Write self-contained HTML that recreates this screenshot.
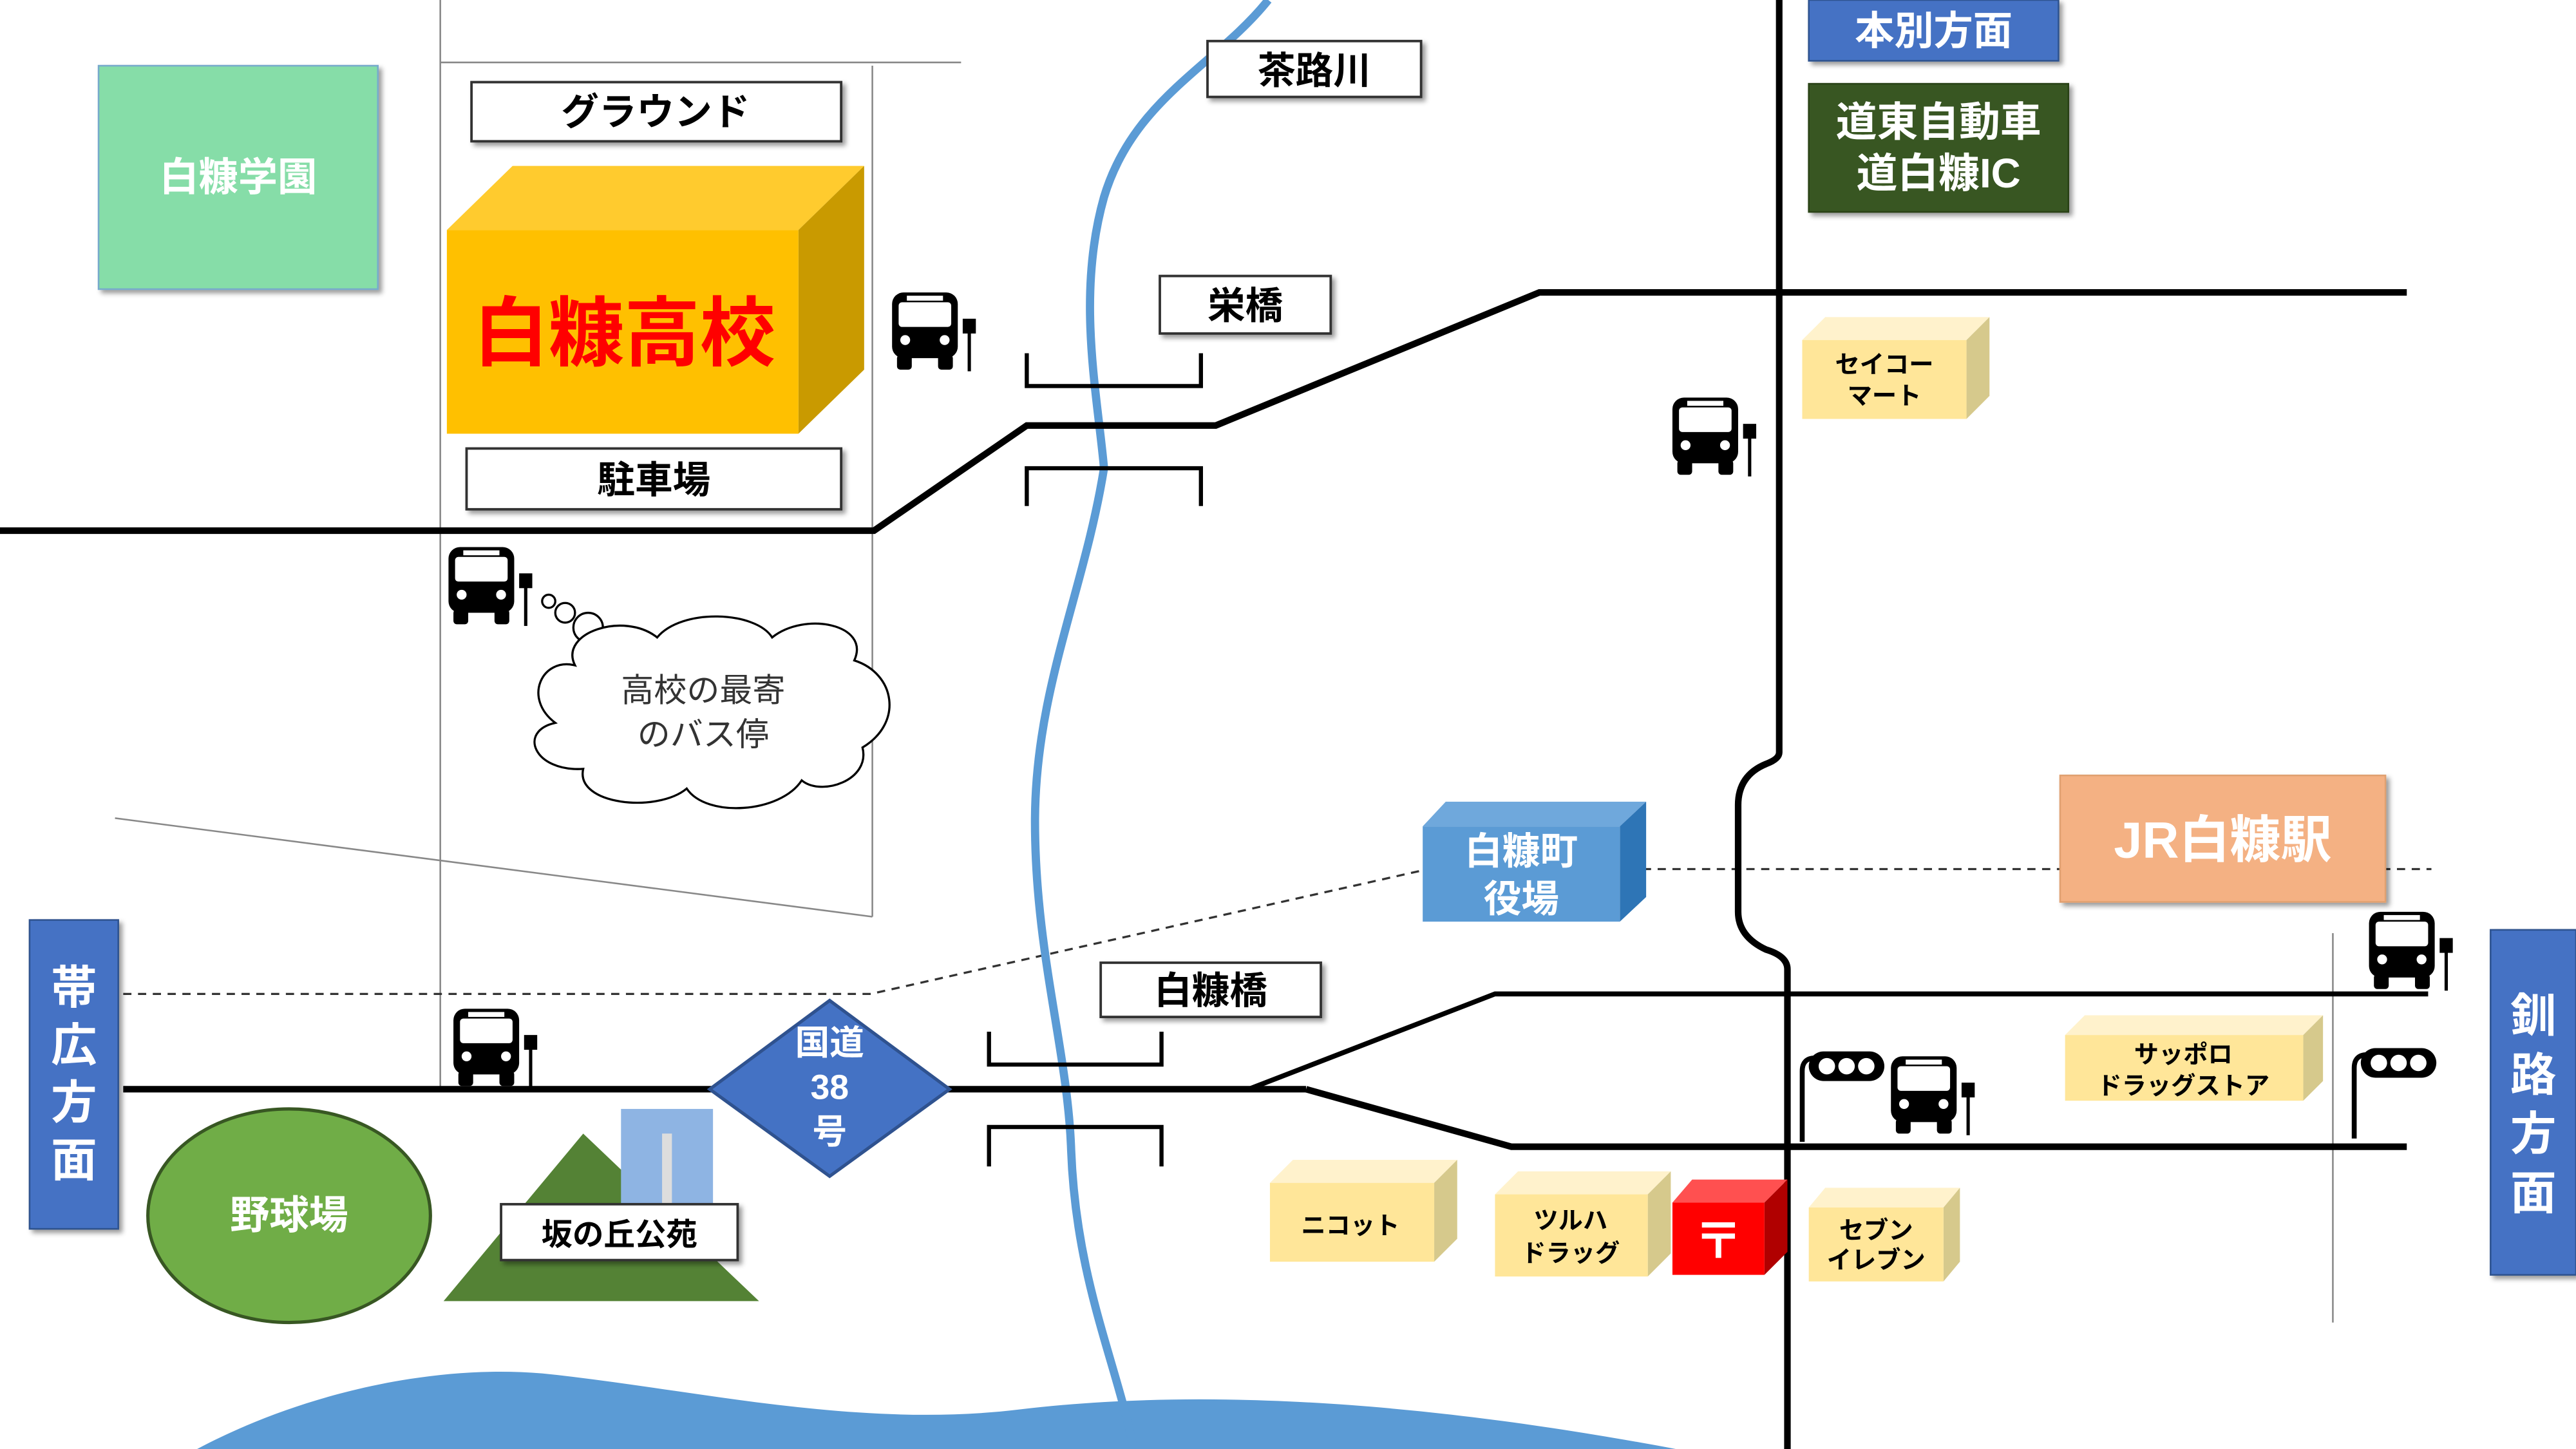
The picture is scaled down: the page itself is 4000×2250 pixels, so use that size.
<!DOCTYPE html>
<html><head><meta charset="utf-8"><style>
html,body{margin:0;padding:0;background:#fff;}
svg{display:block;}
text{font-family:"Liberation Sans","Noto Sans CJK JP",sans-serif;font-weight:bold;}
</style></head><body>
<svg width="4000" height="2250" viewBox="0 0 1568 882" xmlns="http://www.w3.org/2000/svg">
<defs>
<filter id="sh" x="-10%" y="-10%" width="130%" height="130%"><feDropShadow dx="2" dy="2" stdDeviation="1.5" flood-color="#000" flood-opacity="0.4"/></filter>
<g id="bus">
<rect x="0" y="0" width="40" height="40" rx="7" fill="#000"/>
<rect x="4" y="6" width="32" height="15" rx="2" fill="#fff"/>
<rect x="9" y="2" width="22" height="3" fill="#fff"/>
<circle cx="8" cy="29" r="3" fill="#fff"/><circle cx="32" cy="29" r="3" fill="#fff"/>
<rect x="3" y="38" width="9" height="9" rx="2" fill="#000"/><rect x="28" y="38" width="9" height="9" rx="2" fill="#000"/>
<rect x="46" y="18" width="2" height="30" fill="#000"/><rect x="43" y="16" width="8" height="9" fill="#000"/>
</g>
<g id="sig">
<path d="M0,55 V12 Q0,4 8,4" stroke="#000" stroke-width="3" fill="none"/>
<rect x="4" y="0" width="46" height="18" rx="9" fill="#000"/>
<circle cx="15" cy="9" r="5" fill="#fff"/><circle cx="27" cy="9" r="5" fill="#fff"/><circle cx="39" cy="9" r="5" fill="#fff"/>
</g>
</defs>
<rect width="1568" height="882" fill="#fff"/>
<!-- sea -->
<path d="M120,882 C180,850 260,830 330,836 C420,845 520,870 620,858 C720,846 850,850 1020,882 Z" fill="#5B9BD5"/>
<!-- thin lines -->
<g stroke="#888" stroke-width="1" fill="none">
<line x1="268" y1="0" x2="268" y2="662"/>
<line x1="268" y1="38" x2="585" y2="38"/>
<line x1="531" y1="40" x2="531" y2="558"/>
<line x1="70" y1="498" x2="531" y2="558"/>
<line x1="1420" y1="568" x2="1420" y2="805"/>
</g>
<!-- dashed -->
<g stroke="#333" stroke-width="1.3" stroke-dasharray="5,4" fill="none">
<polyline points="75,605 530,605 865,530"/>
<line x1="1000" y1="529" x2="1480" y2="529"/>
</g>
<!-- river -->
<path d="M772,0 C740,40 690,60 672,120 C655,180 668,240 672,285 C660,360 630,420 630,500 C630,580 650,640 652,700 C655,780 680,830 690,882" stroke="#5B9BD5" stroke-width="5" fill="none"/>
<!-- roads -->
<g stroke="#000" stroke-width="4" fill="none">
<polyline points="0,323 532,323 625,259 740,259 937,178 1465,178"/>
<path d="M1083,0 V458 Q1083,462 1075,465 Q1058,472 1058,490 V555 Q1058,570 1075,578 Q1088,582 1088,590 V882"/>
<line x1="75" y1="663" x2="795" y2="663"/>
<polyline points="760,663 910,605 1478,605" stroke-width="3"/>
<polyline points="795,663 920,698 1465,698"/>
</g>
<!-- bridges -->
<g stroke="#000" stroke-width="2.5" fill="none">
<polyline points="625,215 625,235 731,235 731,215"/>
<polyline points="625,308 625,285 731,285 731,308"/>
<polyline points="602,628 602,648 707,648 707,628"/>
<polyline points="602,710 602,686 707,686 707,710"/>
</g>
<!-- 白糠学園 -->
<rect x="60" y="40" width="170" height="136" fill="#86DDA8" stroke="#7ac" stroke-width="1" filter="url(#sh)"/>
<text x="145" y="116" font-size="24" fill="#fff" text-anchor="middle">白糠学園</text>
<!-- label boxes -->
<g filter="url(#sh)" fill="#fff" stroke="#333" stroke-width="1.5">
<rect x="287" y="50" width="225" height="36"/>
<rect x="284" y="273" width="228" height="37"/>
<rect x="735" y="25" width="130" height="34"/>
<rect x="706" y="168" width="104" height="35"/>
<rect x="670" y="586" width="134" height="33"/>
</g>
<g font-size="23" fill="#000" text-anchor="middle">
<text x="399" y="76">グラウンド</text>
<text x="398" y="300">駐車場</text>
<text x="800" y="51">茶路川</text>
<text x="758" y="194">栄橋</text>
<text x="737" y="611">白糠橋</text>
</g>
<!-- 高校 -->
<polygon points="272,140 312,101 526,101 486,140" fill="#FFCB2E"/>
<polygon points="486,140 526,101 526,225 486,264" fill="#C99A00"/>
<rect x="272" y="140" width="214" height="124" fill="#FFC000"/>
<text x="380" y="219" font-size="46" fill="#FF0000" text-anchor="middle">白糠高校</text>
<!-- 本別 / IC -->
<rect x="1101" y="0" width="152" height="37" fill="#4472C4" stroke="#2F528F" filter="url(#sh)"/>
<text x="1177" y="27" font-size="24" fill="#fff" text-anchor="middle">本別方面</text>
<rect x="1101" y="51" width="158" height="78" fill="#375623" stroke="#2a4218" filter="url(#sh)"/>
<text x="1180" y="83" font-size="25" fill="#fff" text-anchor="middle">道東自動車</text>
<text x="1180" y="114" font-size="25" fill="#fff" text-anchor="middle">道白糠IC</text>
<!-- 帯広 / 釧路 -->
<rect x="18" y="560" width="54" height="188" fill="#4472C4" stroke="#2F528F" filter="url(#sh)"/>
<g font-size="28" fill="#fff" text-anchor="middle">
<text x="45" y="611">帯</text><text x="45" y="646">広</text><text x="45" y="681">方</text><text x="45" y="716">面</text>
</g>
<rect x="1516" y="566" width="52" height="210" fill="#4472C4" stroke="#2F528F" filter="url(#sh)"/>
<g font-size="28" fill="#fff" text-anchor="middle">
<text x="1542" y="628">釧</text><text x="1542" y="664">路</text><text x="1542" y="700">方</text><text x="1542" y="736">面</text>
</g>
<!-- JR -->
<rect x="1254" y="472" width="198" height="77" fill="#F4B183" stroke="#e0a070" filter="url(#sh)"/>
<text x="1353" y="522" font-size="31" fill="#fff" text-anchor="middle">JR白糠駅</text>
<!-- 役場 -->
<polygon points="866,503 880,488 1002,488 986,503" fill="#6FA8DC"/>
<polygon points="986,503 1002,488 1002,546 986,561" fill="#2E75B6"/>
<rect x="866" y="503" width="120" height="58" fill="#5B9BD5"/>
<text x="926" y="526" font-size="23" fill="#fff" text-anchor="middle">白糠町</text>
<text x="926" y="555" font-size="23" fill="#fff" text-anchor="middle">役場</text>
<!-- diamond -->
<polygon points="505,609 578,663 505,716 432,663" fill="#4472C4" stroke="#2F528F" stroke-width="2"/>
<text x="505" y="642" font-size="21" fill="#fff" text-anchor="middle">国道</text>
<text x="505" y="669" font-size="21" fill="#fff" text-anchor="middle">38</text>
<text x="505" y="696" font-size="21" fill="#fff" text-anchor="middle">号</text>
<!-- yellow boxes -->
<g>
<polygon points="1097,207 1111,193 1211,193 1197,207" fill="#FFF2CC"/><polygon points="1197,207 1211,193 1211,241 1197,255" fill="#D6C98C"/><rect x="1097" y="207" width="100" height="48" fill="#FFE699"/>
<polygon points="773,720 787,706 887,706 873,720" fill="#FFF2CC"/><polygon points="873,720 887,706 887,754 873,768" fill="#D6C98C"/><rect x="773" y="720" width="100" height="48" fill="#FFE699"/>
<polygon points="910,727 924,713 1017,713 1003,727" fill="#FFF2CC"/><polygon points="1003,727 1017,713 1017,763 1003,777" fill="#D6C98C"/><rect x="910" y="727" width="93" height="50" fill="#FFE699"/>
<polygon points="1101,735 1111,723 1193,723 1183,735" fill="#FFF2CC"/><polygon points="1183,735 1193,723 1193,768 1183,780" fill="#D6C98C"/><rect x="1101" y="735" width="82" height="45" fill="#FFE699"/>
<polygon points="1257,630 1269,618 1414,618 1402,630" fill="#FFF2CC"/><polygon points="1402,630 1414,618 1414,658 1402,670" fill="#D6C98C"/><rect x="1257" y="630" width="145" height="40" fill="#FFE699"/>
<polygon points="1018,732 1030,718 1088,718 1074,732" fill="#FF5050"/><polygon points="1074,732 1088,718 1088,762 1074,776" fill="#B00000"/><rect x="1018" y="732" width="56" height="44" fill="#FF0000"/>
</g>
<g font-size="15" fill="#000" text-anchor="middle">
<text x="1147" y="227">セイコー</text><text x="1147" y="246">マート</text>
<text x="822" y="751">ニコット</text>
<text x="956" y="748">ツルハ</text><text x="956" y="768">ドラッグ</text>
<text x="1142" y="754">セブン</text><text x="1142" y="772">イレブン</text>
<text x="1329" y="647">サッポロ</text><text x="1329" y="666">ドラッグストア</text>
</g>
<text x="1046" y="766" font-size="30" fill="#fff" text-anchor="middle">〒</text>
<!-- 野球場 -->
<ellipse cx="176" cy="740" rx="86" ry="65" fill="#70AD47" stroke="#385723" stroke-width="2"/>
<text x="176" y="748" font-size="24" fill="#fff" text-anchor="middle">野球場</text>
<!-- mountain -->
<polygon points="270,792 355,690 462,792" fill="#548235"/>
<rect x="378" y="675" width="56" height="58" fill="#8EB4E3"/>
<rect x="403" y="690" width="6" height="43" fill="#ddd"/>
<rect x="305" y="733" width="144" height="34" fill="#fff" stroke="#333" stroke-width="1.5" filter="url(#sh)"/>
<text x="377" y="758" font-size="19" fill="#000" text-anchor="middle">坂の丘公苑</text>
<!-- cloud -->
<g fill="#fff" stroke="#000" stroke-width="1.3">
<circle cx="334" cy="366" r="4"/><circle cx="344" cy="373" r="6"/><circle cx="358" cy="382" r="9"/>
<path d="M350,405 C340,385 380,372 400,388 C415,370 460,372 470,388 C490,372 530,380 520,402 C545,410 550,440 525,455 C530,475 500,485 488,475 C475,495 430,498 418,480 C400,495 350,490 355,468 C325,470 315,445 338,440 C318,425 330,400 350,405 Z"/>
</g>
<text x="428" y="427" font-size="20" font-weight="normal" style="font-weight:normal" fill="#333" text-anchor="middle">高校の最寄</text>
<text x="428" y="454" font-size="20" style="font-weight:normal" fill="#333" text-anchor="middle">のバス停</text>
<!-- buses -->
<use href="#bus" x="543" y="178"/>
<use href="#bus" x="1018" y="242"/>
<use href="#bus" x="273" y="333"/>
<use href="#bus" x="276" y="614"/>
<use href="#bus" x="1151" y="643"/>
<use href="#bus" x="1442" y="555"/>
<use href="#sig" x="1097" y="640"/>
<use href="#sig" x="1433" y="638"/>
</svg>
</body></html>
